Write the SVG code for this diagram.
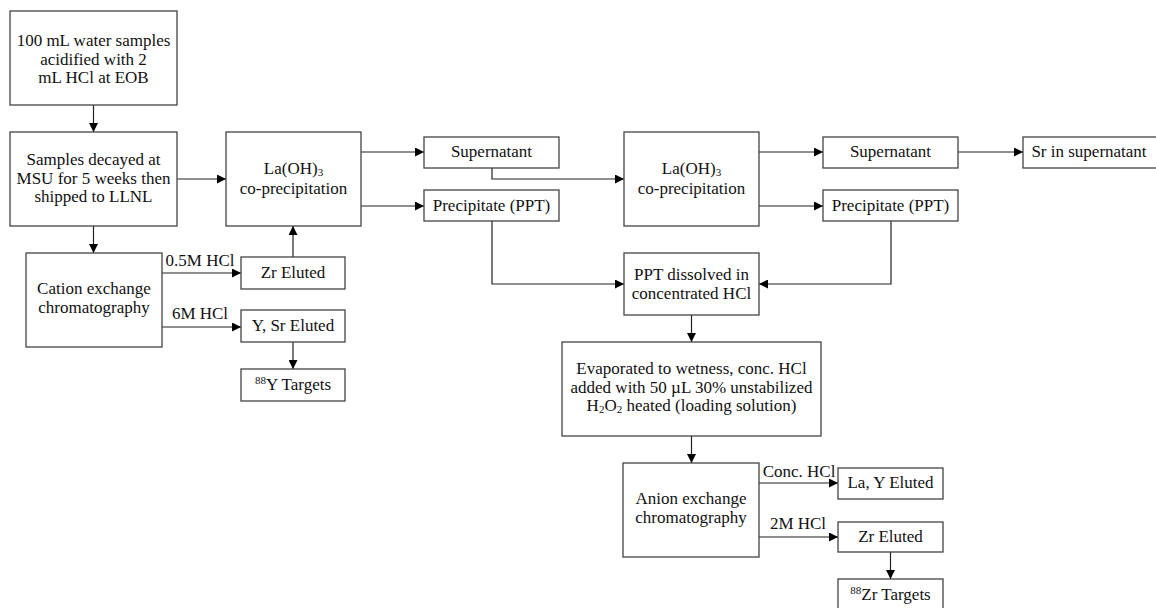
<svg xmlns="http://www.w3.org/2000/svg" width="1156" height="608" viewBox="0 0 1156 608">
<style>
.b{fill:#fff;stroke:#444;stroke-width:1.3}
text{font-family:"Liberation Serif","DejaVu Serif",serif;font-size:17px;fill:#111;text-anchor:middle}
.c{fill:none;stroke:#222;stroke-width:1.2}
.s{font-size:11px}
</style>
<defs>
<marker id="a" viewBox="0 0 10 10" refX="10" refY="5" markerWidth="9" markerHeight="9" markerUnits="userSpaceOnUse" orient="auto"><path d="M0,0L10,5L0,10z" fill="#000"/></marker>
</defs>
<rect width="1156" height="608" fill="#fff"/>
<g id="connectors">
<path class="c" d="M93.5,105V132" marker-end="url(#a)"/>
<path class="c" d="M177,179H226" marker-end="url(#a)"/>
<path class="c" d="M93.5,226V253" marker-end="url(#a)"/>
<path class="c" d="M162,273H241" marker-end="url(#a)"/>
<path class="c" d="M162,327H241" marker-end="url(#a)"/>
<path class="c" d="M293,257V226" marker-end="url(#a)"/>
<path class="c" d="M293,342V369" marker-end="url(#a)"/>
<path class="c" d="M361,152H424" marker-end="url(#a)"/>
<path class="c" d="M361,206H424" marker-end="url(#a)"/>
<path class="c" d="M492,168V179H624" marker-end="url(#a)"/>
<path class="c" d="M492,221V284H624" marker-end="url(#a)"/>
<path class="c" d="M759,152H823" marker-end="url(#a)"/>
<path class="c" d="M759,206H823" marker-end="url(#a)"/>
<path class="c" d="M958,152H1023" marker-end="url(#a)"/>
<path class="c" d="M891,221V284H759" marker-end="url(#a)"/>
<path class="c" d="M691.5,315V342" marker-end="url(#a)"/>
<path class="c" d="M691.5,436V463" marker-end="url(#a)"/>
<path class="c" d="M759,483H838" marker-end="url(#a)"/>
<path class="c" d="M759,537H838" marker-end="url(#a)"/>
<path class="c" d="M890.5,552V579" marker-end="url(#a)"/>
<text x="200" y="266">0.5M HCl</text>
<text x="200" y="319">6M HCl</text>
<text x="799" y="477">Conc. HCl</text>
<text x="798" y="529">2M HCl</text>
</g>
<g id="n1"><rect class="b" x="10" y="11" width="167" height="94"/>
<text x="93.5" y="46">100 mL water samples</text><text x="93.5" y="64.5">acidified with 2</text><text x="93.5" y="83">mL HCl at EOB</text></g>
<g id="n2"><rect class="b" x="10" y="132" width="167" height="94"/>
<text x="93.5" y="165">Samples decayed at</text><text x="93.5" y="183.5">MSU for 5 weeks then</text><text x="93.5" y="202">shipped to LLNL</text></g>
<g id="n3"><rect class="b" x="226" y="132" width="135" height="94"/>
<text x="293.5" y="173.5">La(OH)<tspan class="s" dy="2">3</tspan></text><text x="293.5" y="194">co-precipitation</text></g>
<g id="n4"><rect class="b" x="26" y="253" width="136" height="94"/>
<text x="94" y="294">Cation exchange</text><text x="94" y="312.5">chromatography</text></g>
<g id="n5"><rect class="b" x="241" y="257" width="104" height="32"/><text x="293" y="278">Zr Eluted</text></g>
<g id="n6"><rect class="b" x="241" y="310" width="104" height="32"/><text x="293" y="331">Y, Sr Eluted</text></g>
<g id="n7"><rect class="b" x="241" y="369" width="104" height="32"/><text x="293" y="390"><tspan class="s" dy="-6">88</tspan><tspan dy="6">Y Targets</tspan></text></g>
<g id="n8"><rect class="b" x="424" y="137" width="135" height="31"/><text x="491.5" y="157">Supernatant</text></g>
<g id="n9"><rect class="b" x="424" y="190" width="135" height="31"/><text x="491.5" y="211">Precipitate (PPT)</text></g>
<g id="n10"><rect class="b" x="624" y="132" width="135" height="94"/>
<text x="691.5" y="173.5">La(OH)<tspan class="s" dy="2">3</tspan></text><text x="691.5" y="194">co-precipitation</text></g>
<g id="n11"><rect class="b" x="823" y="137" width="135" height="31"/><text x="890.5" y="157">Supernatant</text></g>
<g id="n12"><rect class="b" x="823" y="190" width="135" height="31"/><text x="890.5" y="211">Precipitate (PPT)</text></g>
<g id="n13"><rect class="b" x="1023" y="137" width="140" height="31"/><text x="1089" y="157">Sr in supernatant</text></g>
<g id="n14"><rect class="b" x="624" y="253" width="135" height="62"/>
<text x="691.5" y="280">PPT dissolved in</text><text x="691.5" y="298.5">concentrated HCl</text></g>
<g id="n15"><rect class="b" x="562" y="342" width="259" height="94"/>
<text x="691.5" y="374">Evaporated to wetness, conc. HCl</text><text x="691.5" y="392.5">added with 50 µL 30% unstabilized</text><text x="691.5" y="411">H<tspan class="s" dy="2">2</tspan><tspan dy="-2">O</tspan><tspan class="s" dy="2">2</tspan><tspan dy="-2"> heated (loading solution)</tspan></text></g>
<g id="n16"><rect class="b" x="623" y="463" width="136" height="94"/>
<text x="691" y="504">Anion exchange</text><text x="691" y="522.5">chromatography</text></g>
<g id="n17"><rect class="b" x="838" y="468" width="105" height="31"/><text x="890.5" y="488">La, Y Eluted</text></g>
<g id="n18"><rect class="b" x="838" y="522" width="105" height="30"/><text x="890.5" y="542">Zr Eluted</text></g>
<g id="n19"><rect class="b" x="838" y="579" width="105" height="32"/><text x="890.5" y="600"><tspan class="s" dy="-6">88</tspan><tspan dy="6">Zr Targets</tspan></text></g>
</svg>
